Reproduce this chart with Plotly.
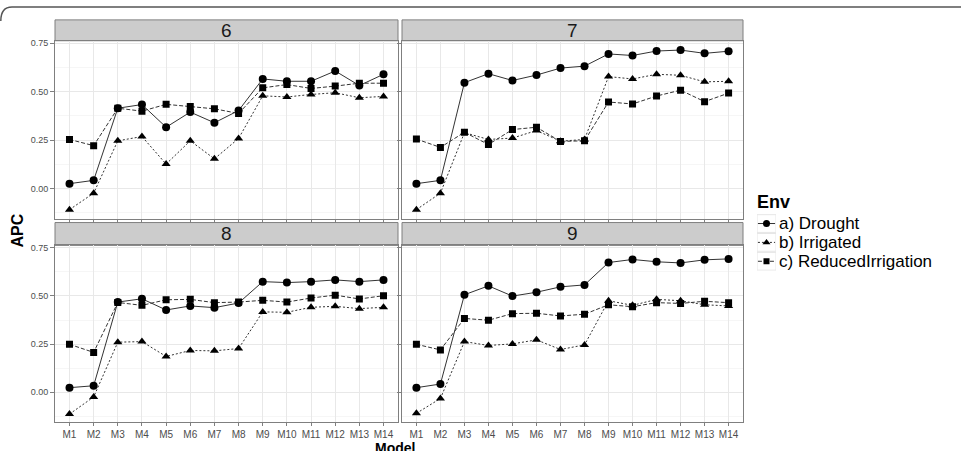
import plotly.graph_objects as go

models = ["M%d" % i for i in range(1, 15)]
panels = ["6", "7", "8", "9"]
env_names = ["a) Drought", "b) Irrigated", "c) ReducedIrrigation"]

drought = {
    "6": [0.025, 0.042, 0.414, 0.433, 0.316, 0.394, 0.339, 0.402, 0.565, 0.553, 0.553, 0.606, 0.531, 0.589],
    "7": [0.025, 0.042, 0.546, 0.592, 0.557, 0.585, 0.621, 0.631, 0.694, 0.686, 0.709, 0.714, 0.697, 0.708],
    "8": [0.024, 0.034, 0.468, 0.485, 0.427, 0.448, 0.439, 0.463, 0.574, 0.569, 0.574, 0.583, 0.574, 0.583],
    "9": [0.024, 0.043, 0.506, 0.552, 0.499, 0.519, 0.547, 0.557, 0.673, 0.689, 0.677, 0.671, 0.687, 0.692],
}
irrigated = {
    "6": [-0.109, -0.024, 0.246, 0.268, 0.126, 0.246, 0.153, 0.258, 0.478, 0.472, 0.485, 0.494, 0.468, 0.475],
    "7": [-0.109, -0.024, 0.288, 0.253, 0.260, 0.299, 0.244, 0.253, 0.577, 0.565, 0.589, 0.584, 0.550, 0.553],
    "8": [-0.113, -0.024, 0.260, 0.263, 0.186, 0.217, 0.215, 0.227, 0.417, 0.415, 0.441, 0.446, 0.434, 0.441],
    "9": [-0.109, -0.032, 0.263, 0.243, 0.251, 0.272, 0.222, 0.246, 0.475, 0.451, 0.482, 0.475, 0.454, 0.448],
}
reduced = {
    "6": [0.253, 0.221, 0.414, 0.399, 0.434, 0.423, 0.411, 0.387, 0.519, 0.536, 0.516, 0.528, 0.543, 0.543],
    "7": [0.255, 0.212, 0.290, 0.227, 0.304, 0.316, 0.243, 0.246, 0.446, 0.436, 0.477, 0.507, 0.448, 0.492],
    "8": [0.249, 0.207, 0.466, 0.451, 0.480, 0.482, 0.465, 0.468, 0.477, 0.468, 0.489, 0.504, 0.484, 0.501],
    "9": [0.249, 0.220, 0.383, 0.374, 0.408, 0.410, 0.396, 0.405, 0.454, 0.444, 0.465, 0.461, 0.472, 0.465],
}
y_ticks = [0.0, 0.25, 0.5, 0.75]
y_tick_labels = ["0.00", "0.25", "0.50", "0.75"]

W, H = 961, 452

def px_x(p):
    return p / W

def px_y(p):
    return (H - p) / H

xdoms = [[px_x(55), px_x(398)], [px_x(402), px_x(743)]]
ydoms_top = [px_y(217), px_y(38)]
ydoms_bot = [px_y(422), px_y(244)]
strip_top = [px_y(38), px_y(17)]
strip_bot = [px_y(244), px_y(221)]

grid_major = "#e8e8e8"
axcol = "#7f7f7f"
font_fam = "Liberation Sans, Arial, sans-serif"
line_col = "#333333"

series = [
    (drought, "circle", 8, "solid"),
    (irrigated, "triangle-up", 8, "2px,2px"),
    (reduced, "square", 7, "4px,2px"),
]

fig = go.Figure()

layout_axes = {}
for i, pan in enumerate(panels):
    row, col = divmod(i, 2)
    idx = i + 1
    xname = "xaxis" if idx == 1 else "xaxis%d" % idx
    yname = "yaxis" if idx == 1 else "yaxis%d" % idx
    xref = "x" if idx == 1 else "x%d" % idx
    yref = "y" if idx == 1 else "y%d" % idx
    ydom = ydoms_top if row == 0 else ydoms_bot
    layout_axes[xname] = dict(
        domain=xdoms[col], anchor=yref, type="category", range=[-0.6, 13.6],
        showgrid=True, gridcolor=grid_major, gridwidth=1,
        showline=True, mirror=True, linecolor=axcol, linewidth=1,
        ticks="outside", ticklen=3, tickcolor=axcol,
        showticklabels=(row == 1),
        tickfont=dict(family=font_fam, size=10, color="#4d4d4d"),
        zeroline=False, categoryorder="array", categoryarray=models,
    )
    layout_axes[yname] = dict(
        domain=ydom, anchor=xref, range=[-0.155, 0.762],
        tickvals=y_ticks, ticktext=y_tick_labels,
        showgrid=True, gridcolor=grid_major, gridwidth=1,
        minor=dict(dtick=0.125, tick0=0.125, showgrid=True, gridcolor="#f6f6f6", ticks=""),
        showline=True, mirror=True, linecolor=axcol, linewidth=1,
        ticks="outside", ticklen=4, tickcolor=axcol,
        showticklabels=(col == 0),
        tickfont=dict(family=font_fam, size=9, color="#4d4d4d"),
        zeroline=False,
    )
    for k, (data, sym, sz, dash) in enumerate(series):
        fig.add_trace(go.Scatter(
            x=models, y=data[pan], xaxis=xref, yaxis=yref,
            mode="lines+markers", name=env_names[k],
            showlegend=False,
            line=dict(color=line_col, width=1, dash=dash),
            marker=dict(symbol=sym, size=sz, color="black"),
        ))
    # strip
    sy = strip_top if row == 0 else strip_bot
    fig.add_shape(type="rect", xref="paper", yref="paper",
                  x0=xdoms[col][0], x1=xdoms[col][1], y0=sy[0], y1=sy[1],
                  fillcolor="#cccccc", line=dict(color=axcol, width=1), layer="below")
    fig.add_annotation(xref="paper", yref="paper",
                       x=(xdoms[col][0] + xdoms[col][1]) / 2, y=(sy[0] + sy[1]) / 2,
                       xanchor="center", yanchor="middle",
                       text=pan, showarrow=False,
                       font=dict(family=font_fam, size=19, color="#1a1a1a"))

# custom legend (ggplot-style, compact rows)
ROW = 19
layout_axes["xaxis5"] = dict(domain=[px_x(757), px_x(776)], range=[0, 1], visible=False,
                             anchor="y5", fixedrange=True)
layout_axes["yaxis5"] = dict(domain=[px_y(222 - ROW / 2 + 3 * ROW), px_y(222 - ROW / 2)],
                             range=[3, 0], visible=False, anchor="x5", fixedrange=True)
fig.update_layout(**layout_axes)

for k, (data, sym, sz, dash) in enumerate(series):
    fig.add_shape(type="rect", xref="x5", yref="y5", x0=0, x1=1, y0=k + 0.03, y1=k + 0.97,
                  line=dict(color="#e6e6e6", width=1), fillcolor="white", layer="below")
    fig.add_trace(go.Scatter(
        x=[0.05, 0.5, 0.95], y=[k + 0.5] * 3, xaxis="x5", yaxis="y5",
        mode="lines", showlegend=False, hoverinfo="skip",
        line=dict(color=line_col, width=1, dash=dash),
    ))
    fig.add_trace(go.Scatter(
        x=[0.5], y=[k + 0.5], xaxis="x5", yaxis="y5",
        mode="markers", showlegend=False, hoverinfo="skip",
        marker=dict(symbol=sym, size=sz - 1, color="black"),
    ))
    fig.add_annotation(xref="paper", yref="paper", x=px_x(778), y=px_y(222 + ROW * k),
                       xanchor="left", yanchor="middle", text=env_names[k], showarrow=False,
                       borderpad=0,
                       font=dict(family=font_fam, size=17, color="black"))

fig.add_annotation(xref="paper", yref="paper", x=px_x(756), y=px_y(200),
                   xanchor="left", yanchor="middle", text="<b>Env</b>", showarrow=False,
                   borderpad=0,
                   font=dict(family=font_fam, size=18, color="black"))

# axis titles
fig.add_annotation(xref="paper", yref="paper", x=px_x(17), y=px_y(229), text="<b>APC</b>",
                   textangle=-90, showarrow=False, xanchor="center", yanchor="middle",
                   font=dict(family=font_fam, size=16, color="black"))
fig.add_annotation(xref="paper", yref="paper", x=px_x(395), y=px_y(452), text="<b>Model</b>",
                   showarrow=False, xanchor="center", yanchor="bottom",
                   height=11, borderpad=0, valign="top",
                   font=dict(family=font_fam, size=14, color="black"))

# figure frame (journal border)
x0, x1, x2 = px_x(0.8), px_x(12), px_x(961)
y0, y1 = px_y(18), px_y(4)
fig.add_shape(type="path", xref="paper", yref="paper",
              path="M %f,%f Q %f,%f %f,%f L %f,%f" % (x0, y0, x0, y1, x1, y1, x2, y1),
              line=dict(color="#555555", width=1.5))

fig.update_layout(
    width=W, height=H,
    margin=dict(l=0, r=0, t=0, b=0),
    paper_bgcolor="white", plot_bgcolor="white",
    font=dict(family=font_fam),
    showlegend=False,
)

fig.write_html("out.html")
